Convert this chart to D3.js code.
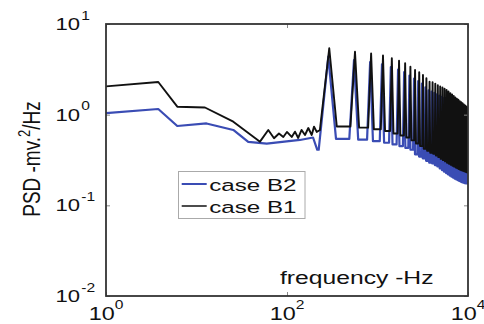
<!DOCTYPE html>
<html>
<head>
<meta charset="utf-8">
<script src="https://cdn.jsdelivr.net/npm/d3@7"></script>
<style>
  body { margin: 0; background: #fff; }
  text { font-family: Arial, "Liberation Sans", sans-serif; fill: #111; }
</style>
</head>
<body>
<div class="chart"></div>
<script>
// low-frequency part of each curve (Hz, PSD)
var lowHzB1 = [1, 3.78, 6.13, 12.4, 25.5, 50.3, 62.1, 71.9, 81.5, 91, 99.8, 112.7, 122.5, 133, 145, 158, 172, 187.5, 199, 213, 232];
var lowPsdB1 = [2.05, 2.29, 1.225, 1.2, 0.837, 0.504, 0.678, 0.55, 0.62, 0.568, 0.645, 0.568, 0.65, 0.553, 0.678, 0.597, 0.713, 0.597, 0.738, 0.645, 0.678];

var lowHzB2 = [1, 3.78, 6.13, 12.9, 25.5, 37.3, 59.7, 139, 194, 216];
var lowPsdB2 = [1.04, 1.155, 0.75, 0.8, 0.678, 0.5, 0.48, 0.526, 0.56, 0.41];

// harmonic peaks: frequency, peak value, floor after the peak
var peakHzB1 = [293, 564, 850, 1150, 1440, 1730, 2020, 2310, 2600, 2890, 3180, 3470, 3760, 4060, 4350, 4640, 4930, 5220, 5510, 5800, 6090, 6380, 6670, 6960, 7250, 7540, 7830, 8120, 8410, 8700, 8990, 9280, 9570, 9860];
var peakPsdB1 = [5.4, 4.95, 4.73, 4.5, 4.19, 3.94, 3.69, 3.38, 3.11, 2.94, 2.74, 2.52, 2.31, 2.28, 2.2, 2.12, 2.05, 1.99, 1.93, 1.87, 1.8, 1.73, 1.67, 1.61, 1.55, 1.5, 1.46, 1.41, 1.37, 1.34, 1.3, 1.26, 1.23, 1.2];
var floorPsdB1 = [0.74, 0.72, 0.69, 0.66, 0.62, 0.59, 0.56, 0.52, 0.48, 0.45, 0.42, 0.4, 0.38, 0.37, 0.355, 0.34, 0.325, 0.315, 0.305, 0.295, 0.287, 0.28, 0.273, 0.267, 0.261, 0.256, 0.251, 0.247, 0.243, 0.24, 0.237, 0.234, 0.232, 0.23];

var peakHzB2 = [286, 550, 829, 1121, 1404, 1687, 1970, 2252, 2535, 2818, 3100, 3383, 3666, 3958, 4241, 4524, 4807, 5090, 5372, 5655, 5938, 6220, 6503, 6786, 7069, 7351, 7634, 7917, 8200, 8482, 8765, 9048, 9331, 9614];
var peakPsdB2 = [4.36, 4.0, 3.8, 3.6, 3.35, 3.15, 2.95, 2.7, 2.5, 2.35, 2.2, 2.0, 1.85, 1.8, 1.74, 1.68, 1.62, 1.57, 1.52, 1.47, 1.42, 1.37, 1.32, 1.28, 1.24, 1.2, 1.16, 1.13, 1.1, 1.07, 1.04, 1.01, 0.99, 0.97];
var floorPsdB2 = [0.54, 0.53, 0.51, 0.49, 0.47, 0.45, 0.43, 0.41, 0.365, 0.345, 0.33, 0.31, 0.295, 0.29, 0.278, 0.268, 0.255, 0.245, 0.235, 0.227, 0.22, 0.213, 0.207, 0.202, 0.197, 0.193, 0.189, 0.186, 0.183, 0.18, 0.178, 0.176, 0.175, 0.174];

var xTicks = [1, 100, 10000];
var xTickExp = ["0", "2", "4"];
var yTicks = [10, 1, 0.1, 0.01];
var yTickExp = ["1", "0", "-1", "-2"];

var seriesNames = ["case B2", "case B1"];
var seriesColors = ["#3a4cb4", "#111111"];

var svgWidth = 484;
var svgHeight = 324;
var plot = { left: 106, right: 468, top: 24, bottom: 296 };
var halfWidth = 62; // half base width of a harmonic peak in Hz

var svg = d3.select(".chart")
  .append("svg")
  .attr("width", svgWidth)
  .attr("height", svgHeight);

var x = d3.scaleLog().domain([1, 10000]).range([plot.left, plot.right]);
var y = d3.scaleLog().domain([0.01, 10]).range([plot.bottom, plot.top]);

function buildSeries(lowHz, lowPsd, peakHz, peakPsd, floorPsd) {
  var pts = lowHz.map((f, i) => [f, lowPsd[i]]);
  peakHz.forEach((f, i) => {
    var before = i === 0 ? lowPsd[lowPsd.length - 1] : floorPsd[i - 1];
    pts.push([f - halfWidth, before]);
    pts.push([f, peakPsd[i]]);
    pts.push([f + halfWidth, floorPsd[i]]);
  });
  pts.push([10000, floorPsd[floorPsd.length - 1]]);
  return pts;
}

var b2 = buildSeries(lowHzB2, lowPsdB2, peakHzB2, peakPsdB2, floorPsdB2);
var b1 = buildSeries(lowHzB1, lowPsdB1, peakHzB1, peakPsdB1, floorPsdB1);

svg.append("clipPath").attr("id", "plotClip")
  .append("rect")
  .attr("x", plot.left).attr("y", plot.top)
  .attr("width", plot.right - plot.left)
  .attr("height", plot.bottom - plot.top);

var line = d3.line()
  .x(d => x(d[0]))
  .y(d => y(d[1]));

var lines = svg.append("g").attr("clip-path", "url(#plotClip)");
lines.append("path").datum(b2)
  .attr("fill", "none").attr("stroke", seriesColors[0])
  .attr("stroke-width", 2.2).attr("stroke-linejoin", "round")
  .attr("d", line);
lines.append("path").datum(b1)
  .attr("fill", "none").attr("stroke", seriesColors[1])
  .attr("stroke-width", 1.9).attr("stroke-linejoin", "round")
  .attr("d", line);

// inward ticks on all four sides
svg.append("g").attr("transform", `translate(0,${plot.bottom})`)
  .call(d3.axisTop(x).tickValues(xTicks).tickSize(4).tickFormat(""));
svg.append("g").attr("transform", `translate(0,${plot.top})`)
  .call(d3.axisBottom(x).tickValues(xTicks).tickSize(4).tickFormat(""));
svg.append("g").attr("transform", `translate(${plot.left},0)`)
  .call(d3.axisRight(y).tickValues(yTicks).tickSize(4).tickFormat(""));
svg.append("g").attr("transform", `translate(${plot.right},0)`)
  .call(d3.axisLeft(y).tickValues(yTicks).tickSize(4).tickFormat(""));
svg.selectAll(".domain").remove();
svg.selectAll(".tick line").attr("stroke", "#888");

// frame
svg.append("rect")
  .attr("x", plot.left).attr("y", plot.top)
  .attr("width", plot.right - plot.left)
  .attr("height", plot.bottom - plot.top)
  .attr("fill", "none").attr("stroke", "#333").attr("stroke-width", 1.8);

// tick labels (power-of-ten style)
xTicks.forEach((t, i) => {
  var g = svg.append("g").attr("transform", `translate(${x(t)},320) scale(1.3,1)`);
  var txt = g.append("text").attr("text-anchor", "middle").attr("font-size", 18);
  txt.append("tspan").text("10");
  txt.append("tspan").attr("dy", -11).attr("font-size", 12).text(xTickExp[i]);
});

yTicks.forEach((t, i) => {
  var g = svg.append("g").attr("transform", `translate(80,${y(t) + 6}) scale(1.3,1)`);
  g.append("text").attr("text-anchor", "end").attr("font-size", 17).text("10");
  g.append("text").attr("x", 1).attr("y", -10.5).attr("font-size", 12).text(yTickExp[i]);
});

// axis titles
svg.append("g").attr("transform", "translate(280,284.3) scale(1.41,1)")
  .append("text").attr("font-size", 17.5).text("frequency -Hz");

var yTitle = svg.append("g").attr("transform", "translate(40,159) scale(1.23,1) rotate(-90)")
  .append("text").attr("text-anchor", "middle").attr("font-size", 19);
yTitle.append("tspan").text("PSD -mv.");
yTitle.append("tspan").attr("dy", -8).attr("font-size", 13).text("2");
yTitle.append("tspan").attr("dy", 8).text("/Hz");

// legend
var legend = svg.append("g");
legend.append("rect")
  .attr("x", 178.5).attr("y", 171.5).attr("width", 126.5).attr("height", 47)
  .attr("fill", "#fff").attr("stroke", "#aaa").attr("stroke-width", 1);
seriesNames.forEach((name, i) => {
  var ly = 184 + i * 22;
  legend.append("line")
    .attr("x1", 181.7).attr("x2", 206.7).attr("y1", ly).attr("y2", ly)
    .attr("stroke", seriesColors[i]).attr("stroke-width", i === 0 ? 2 : 1.5);
  legend.append("g").attr("transform", `translate(209.3,${ly + 6.7}) scale(1.42,1)`)
    .append("text").attr("font-size", 17).text(name);
});
</script>
</body>
</html>
